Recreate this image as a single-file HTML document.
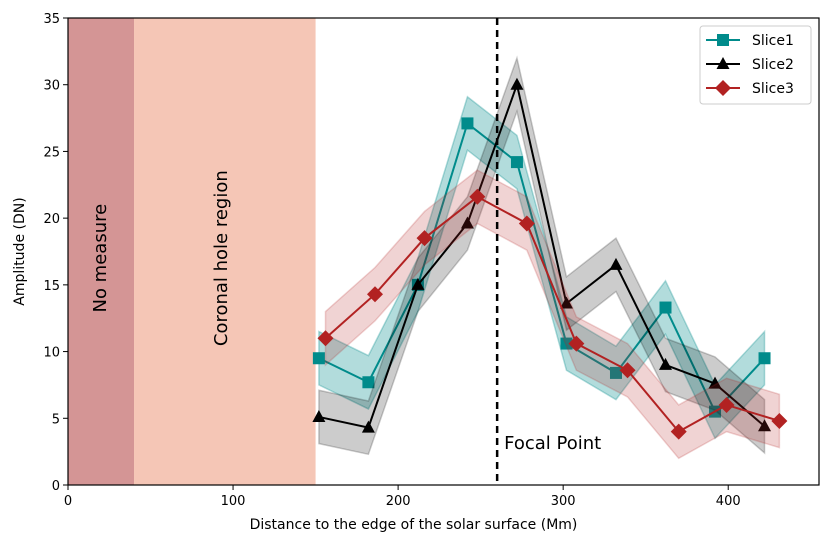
<!DOCTYPE html>
<html><head><meta charset="utf-8">
<style>
body{margin:0;background:#fff;}
svg{display:block;font-family:"DejaVu Sans","Liberation Sans",sans-serif;}
</style></head>
<body>
<svg id="chart" width="831" height="548"></svg>
<script>
const slice1X=[152,182,212,242,272,302,332,362,392,422];
const slice1Y=[9.5,7.7,15,27.1,24.2,10.6,8.4,13.3,5.5,9.5];
const slice2X=[152,182,212,242,272,302,332,362,392,422];
const slice2Y=[5.1,4.3,15,19.6,30,13.6,16.5,9,7.6,4.4];
const slice3X=[156,186,216,248,278,308,339,370,399,431];
const slice3Y=[11,14.3,18.5,21.6,19.6,10.6,8.6,4,6,4.8];
const bandErr=2;
const xTicks=[0,100,200,300,400];
const yTicks=[0,5,10,15,20,25,30,35];
const focalX=260;

const NS="http://www.w3.org/2000/svg";
const svg=document.getElementById('chart');
const L=68,R=819,T=18,B=485;
const sx=v=>L+v*(R-L)/455;
const sy=v=>B-v*(B-T)/35;
function el(tag,attrs,parent){const e=document.createElementNS(NS,tag);for(const k in attrs)e.setAttribute(k,attrs[k]);(parent||svg).appendChild(e);return e;}

let r=el('rect',{x:sx(0),y:T,width:sx(40)-sx(0),height:B-T,fill:'#d49595'});


r=el('rect',{x:sx(40),y:T,width:sx(150)-sx(40),height:B-T,fill:'#f5c6b6'});


let t=el('text',{x:0,y:0,'font-size':18,'text-anchor':'middle',transform:`translate(${sx(20)+5},${sy(17)}) rotate(-90)`});t.textContent='No measure';


t=el('text',{x:0,y:0,'font-size':18,'text-anchor':'middle',transform:`translate(${sx(95)+2},${sy(17)}) rotate(-90)`});t.textContent='Coronal hole region';



const series=[
 {xs:slice1X,ys:slice1Y,c:'#008b8b',band:'rgba(0,139,139,0.3)',m:'square',name:'slice1'},
 {xs:slice2X,ys:slice2Y,c:'#000',band:'rgba(0,0,0,0.2)',m:'tri',name:'slice2'},
 {xs:slice3X,ys:slice3Y,c:'#b22222',band:'rgba(178,34,34,0.2)',m:'diamond',name:'slice3'}];
function marker(m,x,y,c,g){
 if(m==='square')return el('rect',{x:x-6,y:y-6,width:12,height:12,fill:c},g);
 if(m==='tri')return el('polygon',{points:`${x},${y-7} ${x-6.5},${y+5} ${x+6.5},${y+5}`,fill:c},g);
 return el('polygon',{points:`${x},${y-8} ${x+8},${y} ${x},${y+8} ${x-8},${y}`,fill:c},g);
}
series.forEach(s=>{
 const g=el('g',{});
 
 
 const up=s.xs.map((x,i)=>`${sx(x)},${sy(s.ys[i]+bandErr)}`);
 const dn=s.xs.map((x,i)=>`${sx(x)},${sy(s.ys[i]-bandErr)}`).reverse();
 const b=el('polygon',{points:up.concat(dn).join(' '),fill:s.band,stroke:s.band,'stroke-width':1.5},g);
 
 
 const l=el('polyline',{points:s.xs.map((x,i)=>`${sx(x)},${sy(s.ys[i])}`).join(' '),fill:'none',stroke:s.c,'stroke-width':2},g);
 
 
 s.xs.forEach((x,i)=>{const mk=marker(s.m,sx(x),sy(s.ys[i]),s.c,g);
  
  });
});

let d=el('line',{x1:sx(focalX),x2:sx(focalX),y1:T,y2:B,stroke:'#000','stroke-width':2.5,'stroke-dasharray':'7,5'});


t=el('text',{x:sx(focalX)+7,y:449,'font-size':18});t.textContent='Focal Point';



let f=el('rect',{x:L,y:T,width:R-L,height:B-T,fill:'none',stroke:'#000','stroke-width':1.2});


xTicks.forEach(v=>{const x=sx(v);
 const tk=el('line',{x1:x,x2:x,y1:B,y2:B+5,stroke:'#000'});
 
 
 const tl=el('text',{x:x,y:B+20,'font-size':13,'text-anchor':'middle'});tl.textContent=v;
 
 });
yTicks.forEach(v=>{const y=sy(v);
 const tk=el('line',{x1:L-5,x2:L,y1:y,y2:y,stroke:'#000'});
 
 
 const tl=el('text',{x:L-8,y:y+5,'font-size':13,'text-anchor':'end'});tl.textContent=v;
 
 });
t=el('text',{x:(L+R)/2-30,y:529,'font-size':14,'text-anchor':'middle'});t.textContent='Distance to  the edge of the solar surface (Mm)';


t=el('text',{x:0,y:0,'font-size':14,'text-anchor':'middle',transform:`translate(24,${(T+B)/2}) rotate(-90)`});t.textContent='Amplitude (DN)';



const lg=el('g',{});


el('rect',{x:700,y:26,width:111,height:78,rx:3,fill:'#fff',stroke:'#ccc'},lg);
series.forEach((s,i)=>{const y=40+i*24;
 const e=el('g',{},lg);
 
 
 el('line',{x1:706,x2:740,y1:y,y2:y,stroke:s.c,'stroke-width':2},e);
 marker(s.m,723,y,s.c,e);
 const tx=el('text',{x:752,y:y+5,'font-size':14},e);tx.textContent='Slice'+(i+1);});
</script>
</body></html>
